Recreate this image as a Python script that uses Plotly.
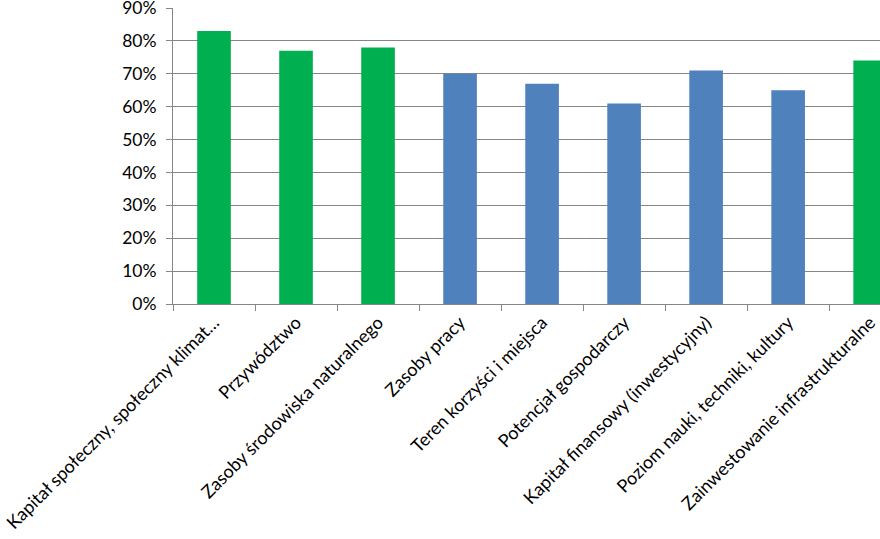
import plotly.graph_objects as go

categories = [
    "Kapitał społeczny, społeczny klimat…",
    "Przywództwo",
    "Zasoby środowiska naturalnego",
    "Zasoby pracy",
    "Teren korzyści i miejsca",
    "Potencjał gospodarczy",
    "Kapitał finansowy (inwestycyjny)",
    "Poziom nauki, techniki, kultury",
    "Zainwestowanie infrastrukturalne",
]
values = [0.83, 0.77, 0.78, 0.70, 0.67, 0.61, 0.71, 0.65, 0.74]
highlight = [True, True, True, False, False, False, False, False, True]
y_ticks = [0.0, 0.1, 0.2, 0.3, 0.4, 0.5, 0.6, 0.7, 0.8, 0.9]
y_tick_labels = ["0%", "10%", "20%", "30%", "40%", "50%", "60%", "70%", "80%", "90%"]

GREEN = "#00B050"
BLUE = "#4F81BD"
colors = [GREEN if h else BLUE for h in highlight]

fig = go.Figure(go.Bar(
    x=categories, y=values, marker=dict(color=colors, line=dict(width=0)),
    width=0.41,
))

font = "Lato, 'Noto Sans', sans-serif"
fig.update_layout(
    width=880, height=539,
    margin=dict(l=173, r=0, t=8, b=235),
    plot_bgcolor="white", paper_bgcolor="white",
    showlegend=False,
    font=dict(family=font, size=17.5, color="#000000"),
)
fig.update_xaxes(
    range=[-0.5, 8.12],
    tickangle=-45,
    tickson="boundaries",
    ticks="outside", ticklen=6, tickcolor="#868686",
    showline=True, linecolor="#868686", linewidth=1,
    showgrid=False,
    automargin=False,
    tickfont=dict(size=18),
)
fig.update_yaxes(
    range=[0, 0.9],
    tickvals=y_ticks, ticktext=y_tick_labels,
    ticks="outside", ticklen=6, tickcolor="#868686",
    showline=True, linecolor="#868686", linewidth=1,
    showgrid=True, gridcolor="#868686", gridwidth=1,
    zeroline=False,
    automargin=False,
    tickfont=dict(size=17.5),
    ticklabelstandoff=6,
    ticklabeloverflow="allow",
)

fig.write_html(
    "out.html",
    config={"displayModeBar": False},
    post_script="document.body.style.margin='0';document.body.style.overflow='hidden';",
)
